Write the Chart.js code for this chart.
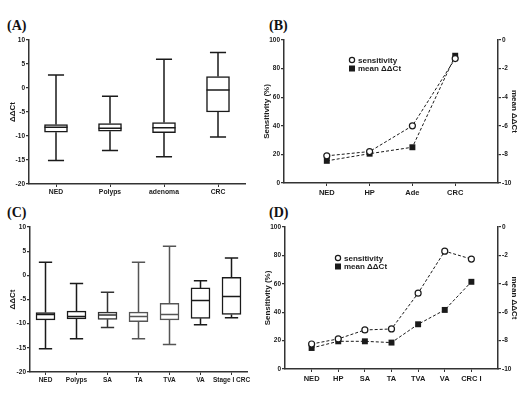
<!DOCTYPE html>
<html lang="en">
<head>
<meta charset="UTF-8">
<title>ddCt panels</title>
<script src="https://cdn.jsdelivr.net/npm/chart.js@4.4.1/dist/chart.umd.min.js"></script>
<style>
    body{margin:0;background:#fff;width:523px;height:393px;position:relative;overflow:hidden}
    canvas{position:absolute}
    .lbl{position:absolute;font:bold 14px 'Liberation Serif',serif;color:#111}
</style>
</head>
<body>
<div class="lbl" style="left:7px;top:18px">(A)</div>
<div class="lbl" style="left:269px;top:18px">(B)</div>
<div class="lbl" style="left:7px;top:205px">(C)</div>
<div class="lbl" style="left:269px;top:205px">(D)</div>
<canvas id="pa" width="262" height="200" style="left:0;top:0"></canvas>
<canvas id="pb" width="261" height="200" style="left:262px;top:0"></canvas>
<canvas id="pc" width="262" height="198" style="left:0;top:195px"></canvas>
<canvas id="pd" width="261" height="198" style="left:262px;top:195px"></canvas>
<script>
    // panel A - box plots
    const catsA = ['NED', 'Polyps', 'adenoma', 'CRC'];
    const minA = [-15.1, -13.0, -14.3, -10.2];
    const q1A = [-9.2, -9.0, -9.3, -5.0];
    const medA = [-8.2, -8.4, -8.3, -0.4];
    const q3A = [-7.6, -7.4, -7.2, 2.4];
    const maxA = [2.7, -1.7, 6.0, 7.4];

    // panel B
    const catsB = ['NED', 'HP', 'Ade', 'CRC'];
    const sensB = [19, 22, 40, 87];
    const meanB = [-8.45, -7.95, -7.5, -1.1];

    // panel C - box plots
    const catsC = ['NED', 'Polyps', 'SA', 'TA', 'TVA', 'VA', 'Stage I CRC'];
    const minC = [-15.2, -13.1, -10.8, -13.1, -14.3, -10.2, -8.8];
    const q1C = [-9.2, -9.0, -9.1, -9.6, -9.2, -8.9, -8.1];
    const medC = [-8.1, -8.5, -8.2, -8.5, -8.1, -5.2, -4.4];
    const q3C = [-7.7, -7.4, -7.6, -7.6, -5.8, -2.6, -0.4];
    const maxC = [2.7, -1.7, -3.5, 2.7, 6.0, -1.1, 3.6];

    // panel D
    const catsD = ['NED', 'HP', 'SA', 'TA', 'TVA', 'VA', 'CRC I'];
    const sensD = [17.6, 21.2, 27.5, 28.2, 53.4, 83, 77.4];
    const meanD = [-8.52, -8.05, -8.05, -8.14, -6.85, -5.84, -3.86];

    const FONT = "'Liberation Sans', Arial, sans-serif";
    const INK = '#1a1a1a';
    Chart.defaults.font.family = FONT;
    Chart.defaults.color = INK;

    function boxPlugin(lo, q1, med, q3, hi, colors) {
        return {
            id: 'boxes',
            afterDatasetsDraw(chart) {
                const ctx = chart.ctx;
                const y = chart.scales.y;
                chart.getDatasetMeta(0).data.forEach((bar, i) => {
                    const x = bar.x, half = bar.width / 2, cap = half * 0.7;
                    const py = v => y.getPixelForValue(v);
                    ctx.save();
                    ctx.strokeStyle = colors[i];
                    ctx.lineWidth = 1.5;
                    ctx.beginPath();
                    ctx.moveTo(x - half, py(med[i])); ctx.lineTo(x + half, py(med[i]));
                    ctx.moveTo(x, py(q3[i])); ctx.lineTo(x, py(hi[i]));
                    ctx.moveTo(x - cap, py(hi[i])); ctx.lineTo(x + cap, py(hi[i]));
                    ctx.moveTo(x, py(q1[i])); ctx.lineTo(x, py(lo[i]));
                    ctx.moveTo(x - cap, py(lo[i])); ctx.lineTo(x + cap, py(lo[i]));
                    ctx.stroke();
                    ctx.restore();
                });
            }
        };
    }

    function legendPlugin(dx, dy) {
        return {
            id: 'keys',
            afterDraw(chart) {
                const ctx = chart.ctx, a = chart.chartArea;
                const rows = [['sensitivity', 'o'], ['mean \u0394\u0394Ct', 's']];
                ctx.save();
                ctx.font = 'bold 8px ' + FONT;
                ctx.textBaseline = 'middle';
                rows.forEach((r, k) => {
                    const x = a.left + dx, yy = a.top + dy + k * 8.5;
                    ctx.strokeStyle = INK; ctx.lineWidth = 1.2;
                    if (r[1] === 'o') {
                        ctx.fillStyle = '#fff';
                        ctx.beginPath(); ctx.arc(x, yy, 2.6, 0, Math.PI * 2); ctx.fill(); ctx.stroke();
                    } else {
                        ctx.fillStyle = INK;
                        ctx.fillRect(x - 3, yy - 3, 6, 6);
                    }
                    ctx.fillStyle = INK;
                    ctx.fillText(r[0], x + 6, yy + 0.5);
                });
                ctx.restore();
            }
        };
    }

    function yAxis(min, max, step, title, width, tpad, pos) {
        return {
            position: pos || 'left',
            min: min, max: max,
            afterFit: s => { s.width = width; },
            border: {display: true, color: '#333', width: 1.5},
            grid: {display: true, drawOnChartArea: false, tickLength: 3, color: '#333', lineWidth: 1.2},
            ticks: {stepSize: step, padding: 1, font: {size: 6.5, weight: 'bold'}, color: INK},
            title: {display: true, text: title, padding: {top: tpad, bottom: 0}, font: {size: 8, weight: 'bold'}, color: INK}
        };
    }

    function boxChart(id, cats, lo, q1, med, q3, hi, opt) {
        new Chart(document.getElementById(id), {
            type: 'bar',
            data: {
                labels: cats,
                datasets: [{
                    data: q1.map((v, i) => [v, q3[i]]),
                    backgroundColor: '#fff',
                    borderColor: opt.colors,
                    borderWidth: 1.5,
                    borderSkipped: false,
                    barThickness: opt.barW
                }]
            },
            options: {
                responsive: false,
                animation: false,
                layout: {padding: opt.pad},
                plugins: {legend: {display: false}, tooltip: {enabled: false}},
                scales: {
                    x: {
                        afterFit: s => { s.height = opt.xh; },
                        border: {display: true, color: '#333', width: 1.5},
                        grid: {display: true, offset: false, drawOnChartArea: false, tickLength: 3, color: '#333'},
                        ticks: {padding: 1, font: {size: opt.xfont, weight: 'bold'}, color: INK, maxRotation: 0, autoSkip: false}
                    },
                    y: yAxis(-20, 10, 5, '\u0394\u0394Ct', opt.yw, opt.tpad)
                }
            },
            plugins: [boxPlugin(lo, q1, med, q3, hi, opt.colors)]
        });
    }

    function lineChart(id, cats, sens, mean, opt) {
        const n = cats.length;
        new Chart(document.getElementById(id), {
            type: 'line',
            data: {
                datasets: [{
                    label: 'sensitivity',
                    data: sens.map((v, i) => ({x: i + 1, y: v})),
                    yAxisID: 'y',
                    borderColor: INK, borderWidth: 1, borderDash: [3, 2],
                    pointStyle: 'circle', pointRadius: 3, pointBorderWidth: 1.2,
                    pointBackgroundColor: '#fff', pointBorderColor: INK
                }, {
                    label: 'mean \u0394\u0394Ct',
                    data: mean.map((v, i) => ({x: i + 1, y: v})),
                    yAxisID: 'y2',
                    borderColor: INK, borderWidth: 1, borderDash: [3, 2],
                    pointStyle: 'rect', pointRadius: 4.2, pointBorderWidth: 0,
                    pointBackgroundColor: INK, pointBorderColor: INK
                }]
            },
            options: {
                responsive: false,
                animation: false,
                layout: {padding: opt.pad},
                plugins: {legend: {display: false}, tooltip: {enabled: false}},
                scales: {
                    x: {
                        type: 'linear', min: 0, max: n + 1,
                        afterFit: s => { s.height = opt.xh; },
                        afterBuildTicks: s => { s.ticks = cats.map((c, i) => ({value: i + 1})); },
                        border: {display: true, color: '#333', width: 1.5},
                        grid: {display: true, drawOnChartArea: false, tickLength: 3, color: '#333'},
                        ticks: {callback: v => cats[v - 1], padding: 2, font: {size: 7.5, weight: 'bold'}, color: INK, maxRotation: 0, autoSkip: false}
                    },
                    y: yAxis(0, 100, 20, 'Sensitivity (%)', opt.yw, opt.tpad),
                    y2: yAxis(-10, 0, 2, 'mean \u0394\u0394Ct', opt.y2w, 0, 'right')
                }
            },
            plugins: [legendPlugin(opt.legX, opt.legY)]
        });
    }

    boxChart('pa', catsA, minA, q1A, medA, q3A, maxA, {
        pad: {left: 0, top: 40, right: 17, bottom: 0}, xh: 16, yw: 29, tpad: 8,
        barW: 23, xfont: 6.8, colors: [INK, INK, INK, INK]
    });
    lineChart('pb', catsB, sensB, meanB, {
        pad: {left: 0, top: 40, right: 4, bottom: 0}, xh: 17, yw: 22, y2w: 21, tpad: 0,
        legX: 68, legY: 20
    });
    boxChart('pc', catsC, minC, q1C, medC, q3C, maxC, {
        pad: {left: 0, top: 32, right: 15, bottom: 0}, xh: 21, yw: 30, tpad: 8,
        barW: 19, xfont: 6.5, colors: [INK, INK, '#333', '#555', '#555', INK, INK]
    });
    lineChart('pd', catsD, sensD, meanD, {
        pad: {left: 0, top: 32, right: 4, bottom: 0}, xh: 24, yw: 23, y2w: 21, tpad: 1,
        legX: 53, legY: 31
    });
</script>
</body>
</html>
